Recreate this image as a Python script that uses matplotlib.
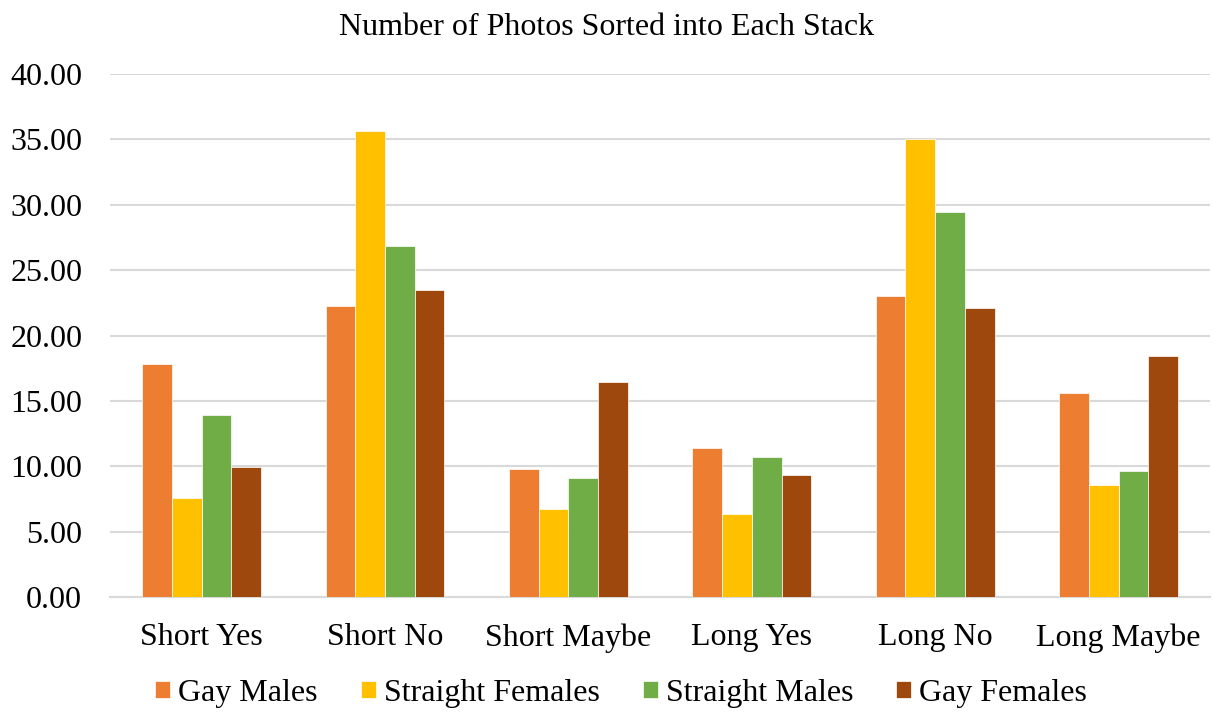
import matplotlib
matplotlib.use("Agg")
import matplotlib.pyplot as plt
import numpy as np

categories = ["Short Yes", "Short No", "Short Maybe", "Long Yes", "Long No", "Long Maybe"]
series_names = ["Gay Males", "Straight Females", "Straight Males", "Gay Females"]
gay_males = [17.84, 22.28, 9.82, 11.41, 22.99, 15.57]
straight_females = [7.55, 35.65, 6.70, 6.35, 35.03, 8.54]
straight_males = [13.90, 26.87, 9.08, 10.73, 29.47, 9.66]
gay_females = [9.96, 23.48, 16.47, 9.36, 22.14, 18.47]
colors = ["#ED7D31", "#FFC000", "#70AD47", "#9E480E"]
y_ticks = [0, 5, 10, 15, 20, 25, 30, 35, 40]

plt.rcParams["font.family"] = ["Liberation Serif", "DejaVu Serif"]

fig = plt.figure(figsize=(12.13, 7.15), dpi=100)
ax = fig.add_axes([0.0907, 0.165, 0.907, 0.7315])

x = np.arange(len(categories))
w = 0.162
all_series = [gay_males, straight_females, straight_males, gay_females]
for i, (name, vals) in enumerate(zip(series_names, all_series)):
    ax.bar(x + (i - 1.5) * w, vals, width=w, color=colors[i], label=name,
           edgecolor="white", linewidth=0.5, zorder=3)

ax.set_xlim(-0.5, len(categories) - 0.5)
ax.set_ylim(0, 40)
ax.set_yticks(y_ticks)
ax.set_yticklabels([f"{v:.2f}" for v in y_ticks])
ax.set_xticks(x)
ax.set_xticklabels(categories)
ax.tick_params(axis="both", length=0, labelsize=23)
ax.tick_params(axis="x", pad=19)
ax.tick_params(axis="y", pad=20)
ax.grid(axis="y", color="#D9D9D9", linewidth=1.5, zorder=0)
for side in ["top", "right", "left"]:
    ax.spines[side].set_visible(False)
ax.spines["bottom"].set_color("#D9D9D9")
ax.spines["bottom"].set_linewidth(1.5)

fig.suptitle("Number of Photos Sorted into Each Stack", y=0.982, fontsize=23)
fig.legend(loc="center", bbox_to_anchor=(0.512, 0.03), ncol=4, frameon=False,
           fontsize=23, handlelength=0.47, handleheight=0.47, handletextpad=0.25,
           columnspacing=1.35)

fig.savefig("out.png", dpi=100)
